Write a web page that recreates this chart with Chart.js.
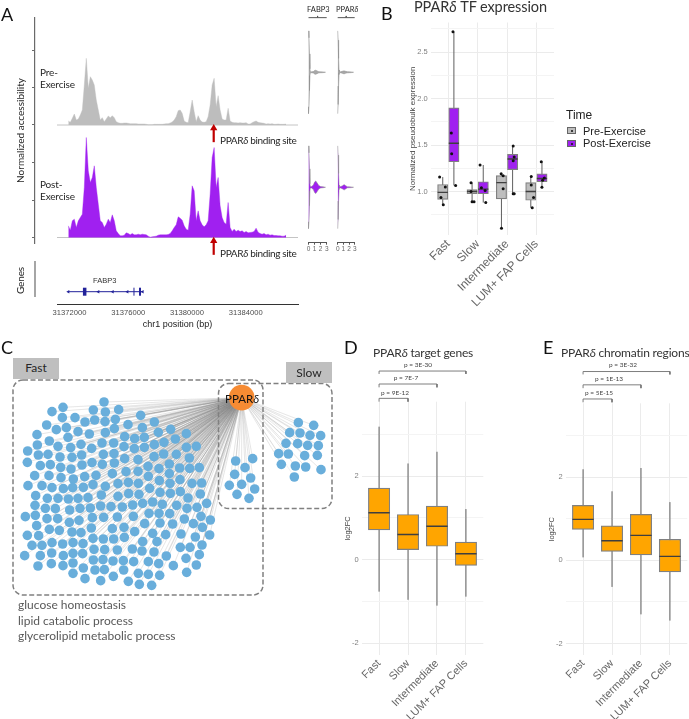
<!DOCTYPE html>
<html>
<head>
<meta charset="utf-8">
<script src="https://cdn.jsdelivr.net/npm/chart.js@4"></script>
<style>
  html, body { margin: 0; padding: 0; background: #fff; }
  #page { position: relative; width: 689px; height: 719px; overflow: hidden; font-family: Lato, sans-serif; }
  canvas { position: absolute; }
  svg { position: absolute; left: 0; top: 0; }
  .t { position: absolute; white-space: nowrap; line-height: 1; color: #262626; }
  .letter { font-size: 18px; color: #111; }
  .head { font-size: 12px; letter-spacing: -0.2px; color: #333; }
  .note { font-size: 10px; letter-spacing: -0.15px; }
  .site { letter-spacing: -0.35px; }
  .pval { font-size: 6.5px; color: #444; transform: translateX(-50%); }
  .go { font-size: 12px; color: #595959; }
  .sans { font-family: "Liberation Sans", sans-serif; }
  .tag { position: absolute; background: #bfbfbf; font-size: 12px; color: #262626; text-align: center; }
  .key { position: absolute; box-sizing: border-box; width: 9px; height: 7px; border: 1px solid #666; }
  .key i { position: absolute; left: 2.5px; top: 1.5px; width: 2.5px; height: 2.5px; border-radius: 50%; background: #111; }
</style>
</head>
<body>
<div id="page">
  <canvas id="tracks" width="302" height="250" style="left:0;top:10px"></canvas>
  <canvas id="genes" width="302" height="75" style="left:0;top:255px"></canvas>
  <canvas id="violinA" width="33" height="250" style="left:300px;top:10px"></canvas>
  <canvas id="violinB" width="33" height="250" style="left:330px;top:10px"></canvas>
  <canvas id="expr" width="153" height="305" style="left:405px;top:15px"></canvas>
  <canvas id="network" width="345" height="320" style="left:0;top:330px"></canvas>
  <canvas id="targets" width="147" height="359" style="left:340px;top:360px"></canvas>
  <canvas id="regions" width="145" height="359" style="left:544px;top:360px"></canvas>

  <svg width="689" height="719" fill="none" stroke="#808080" stroke-width="1.5" stroke-dasharray="5 2.5">
    <rect x="13" y="380" width="250" height="215" rx="10"></rect>
    <rect x="218.5" y="383.5" width="113.5" height="125" rx="10"></rect>
  </svg>

  <div class="t letter" style="left:1px;top:5px">A</div>
  <div class="t letter" style="left:381px;top:4px">B</div>
  <div class="t letter" style="left:1px;top:338px">C</div>
  <div class="t letter" style="left:344px;top:338px">D</div>
  <div class="t letter" style="left:543px;top:338px">E</div>

  <div class="t note" style="left:40px;top:67px">Pre-</div>
  <div class="t note" style="left:40px;top:79px">Exercise</div>
  <div class="t note" style="left:40px;top:179px">Post-</div>
  <div class="t note" style="left:40px;top:191px">Exercise</div>
  <div class="t note site" style="left:220px;top:135px">PPAR<i>δ</i> binding site</div>
  <div class="t note site" style="left:220px;top:248px">PPAR<i>δ</i> binding site</div>
  <div class="t note" style="left:15px;top:275px;transform:rotate(-90deg);transform-origin:left top;margin-top:19px">Genes</div>
  <div class="t sans" style="left:93px;top:277px;font-size:7.5px;color:#333">FABP3</div>
  <div class="t" style="left:307px;top:6px;font-size:7.5px">FABP3</div>
  <div class="t" style="left:336px;top:6px;font-size:7.5px">PPAR<i>δ</i></div>

  <div class="t head" style="left:414px;top:0;font-size:14.5px;letter-spacing:-0.1px">PPAR<i>δ</i> TF expression</div>
  <div class="t sans" style="left:566px;top:109px;font-size:12px;color:#222">Time</div>
  <div class="key" style="left:567px;top:127px;background:#bebebe"><i></i></div>
  <div class="key" style="left:567px;top:140px;background:#a020f0"><i></i></div>
  <div class="t sans" style="left:583px;top:126px;font-size:11px;color:#222">Pre-Exercise</div>
  <div class="t sans" style="left:583px;top:138px;font-size:11px;color:#222">Post-Exercise</div>

  <div class="tag" style="left:13px;top:358px;width:46px;height:21px;line-height:20px">Fast</div>
  <div class="tag" style="left:286px;top:362px;width:46px;height:21px;line-height:22px">Slow</div>
  <div class="t" style="left:225px;top:393px;font-size:11.5px;color:#111">PPAR<i>δ</i></div>
  <div class="t go" style="left:18px;top:599px">glucose homeostasis</div>
  <div class="t go" style="left:18px;top:615px">lipid catabolic process</div>
  <div class="t go" style="left:18px;top:630px">glycerolipid metabolic process</div>

  <div class="t head" style="left:373px;top:347px">PPAR<i>δ</i> target genes</div>
  <div class="t head" style="left:561px;top:347px">PPAR<i>δ</i> chromatin regions</div>
  <div class="t pval" style="left:395px;top:390px">p = 9E-12</div>
  <div class="t pval" style="left:406px;top:375px">p = 7E-7</div>
  <div class="t pval" style="left:418px;top:362px">p = 3E-30</div>
  <div class="t pval" style="left:599px;top:390px">p = 5E-15</div>
  <div class="t pval" style="left:609px;top:376px">p = 1E-13</div>
  <div class="t pval" style="left:623px;top:362px">p = 3E-32</div>
</div>

<script>
// panel A - accessibility tracks, one value every 136 bp
const trackStart = 31371920;
const trackStep = 136;
const preTrack = [12,8,20,33,15,18,30,45,120,200,110,145,135,120,75,45,15,22,10,18,27,22,28,22,10,7,5,5,6,6,5,4,4,4,4,3,3,3,3,2,1,1,1,2,2,2,2,2,3,4,4,6,9,15,25,43,45,35,12,8,7,40,75,40,10,28,15,9,8,10,25,60,120,140,55,88,45,18,15,15,50,12,8,7,7,6,7,6,6,7,3,3,7,10,12,8,7,6,5,3,4,3,4,2,2,3,2,2,2,3];
const postTrack = [35,22,50,55,30,50,60,70,150,300,200,165,180,215,150,100,50,45,30,40,55,45,68,50,20,12,5,5,7,14,12,8,12,8,8,10,8,10,9,8,4,1,2,3,4,7,8,8,8,8,9,12,20,30,38,62,58,52,35,25,22,70,155,140,50,80,50,38,32,38,50,130,240,270,150,180,95,60,45,40,105,30,18,25,18,22,18,20,15,18,14,15,16,18,28,16,12,10,12,8,10,7,8,6,6,5,5,4,4,7];
const trackTicks = [0, 112.5, 225, 337.5, 450, 562.5];
const preBase = 337.5;
const bindingSite = 31381818;
const positionTicks = [31372000, 31376000, 31380000, 31384000];

// FABP3 gene model
const geneSpan = [31371920, 31376980];
const geneArrows = [31371920, 31373960, 31374940, 31375940, 31376980];
const geneExons = [31373033, 31376390, 31376800];
const exonWeights = [3.5, 1, 2];

// violins: density by expression level
const violinExpr = [0, 0.08, 0.16, 0.24, 0.3, 0.5, 0.8, 1.0, 1.2, 1.4, 1.7, 2.0, 2.4, 2.8];
const fabp3Pre = [0.36, 0.3, 0.16, 0.03, 0.005, 0.004, 0.006, 0.015, 0.018, 0.012, 0.005, 0.004, 0.003, 0];
const fabp3Post = [0.36, 0.3, 0.16, 0.03, 0.006, 0.006, 0.02, 0.045, 0.055, 0.04, 0.015, 0.006, 0.004, 0];
const ppardPre = [0.36, 0.28, 0.12, 0.02, 0.005, 0.004, 0.008, 0.012, 0.012, 0.008, 0.005, 0.004, 0.003, 0];
const ppardPost = [0.36, 0.28, 0.12, 0.02, 0.005, 0.006, 0.012, 0.02, 0.022, 0.014, 0.005, 0.004, 0.003, 0];

// panel B
const cellTypes = ["Fast", "Slow", "Intermediate", "LUM+ FAP Cells"];
const preX = [0.81, 1.81, 2.81, 3.81];
const postX = [1.19, 2.19, 3.19, 4.19];
const preLow = [0.857, 0.89, 0.605, 0.825];
const preQ1 = [0.915, 0.975, 0.92, 0.905];
const preMed = [0.99, 1.0, 1.095, 1.0];
const preQ3 = [1.075, 1.02, 1.17, 1.095];
const preHigh = [1.155, 1.095, 1.19, 1.16];
const postLow = [1.065, 0.88, 0.975, 1.045];
const postQ1 = [1.32, 0.975, 1.235, 1.105];
const postMed = [1.52, 1.025, 1.35, 1.14];
const postQ3 = [1.9, 1.105, 1.4, 1.19];
const postHigh = [2.72, 1.285, 1.49, 1.32];
const samplesX = [0.704,0.897,0.749,0.829,1.159,1.103,1.114,1.25,1.774,1.774,1.809,1.877,2.082,2.128,2.253,2.276,2.8,2.868,2.868,2.811,3.21,3.244,3.21,3.21,3.244,3.825,3.825,3.904,3.859,4.166,4.269,4.212,4.189];
const samplesY = [1.155,1.047,0.935,0.857,2.72,1.63,1.405,1.065,1.095,1.0,0.89,0.89,1.285,1.04,1.01,0.88,1.19,1.17,1.03,0.605,1.49,1.37,1.33,0.975,0.975,1.16,1.07,0.935,0.825,1.32,1.145,1.12,1.045];

// panel C - network layout
const hubNode = [725, 203];
const nodeX = [312,189,156,280,316,356,187,225,255,284,315,346,422,463,140,169,199,234,268,316,343,384,427,475,512,559,111,204,148,112,174,212,243,275,306,341,374,404,433,372,403,433,463,492,526,559,589,83,115,144,180,216,245,310,342,374,414,462,491,529,568,82,121,151,182,213,246,276,307,343,444,477,508,539,569,598,104,147,183,220,254,288,337,378,414,445,478,508,510,540,576,605,84,126,156,190,218,250,279,316,354,385,415,449,480,511,541,564,601,107,142,174,205,234,264,304,354,386,417,105,136,166,209,240,271,302,333,367,398,428,458,487,530,561,591,620,76,106,141,173,208,237,277,311,352,400,447,477,509,553,603,631,110,148,178,216,243,274,337,372,404,434,480,518,580,607,82,116,458,497,543,586,629,96,126,156,188,219,249,279,310,341,373,428,471,541,570,606,74,121,155,190,219,248,282,314,352,397,426,462,499,558,598,114,154,189,219,280,309,339,370,401,445,476,520,589,219,250,285,313,371,415,445,479,560,255,302,340,385,418,455,707,758,735,704,752,688,725,764,711,747,895,941,869,900,930,962,858,893,923,955,836,865,914,952,844,886,917,963,883];
const nodeY = [216,232,245,240,246,239,263,263,276,270,275,268,256,276,285,299,293,305,312,308,296,284,293,307,298,311,314,322,333,345,349,353,343,355,339,339,320,326,322,350,356,352,344,337,327,352,349,363,375,373,381,382,375,373,371,386,389,380,372,373,384,397,407,404,412,417,405,398,403,399,409,416,402,414,415,413,437,437,443,447,440,436,431,425,424,439,452,431,460,449,460,459,467,467,473,476,473,472,464,469,461,457,460,475,487,490,485,504,492,497,505,505,507,505,503,495,499,491,493,526,535,536,540,535,534,528,530,531,525,520,516,523,526,535,532,520,560,556,566,566,577,571,563,562,561,559,550,550,551,567,559,570,587,598,601,606,608,594,596,592,605,581,579,582,581,592,616,617,610,614,612,621,615,646,646,638,642,638,641,625,627,627,622,635,635,652,652,645,677,677,669,677,670,671,658,659,660,657,663,666,678,685,674,708,701,707,699,690,689,693,692,695,695,701,707,705,730,714,720,719,720,730,733,736,727,746,752,739,754,763,766,393,386,413,433,444,466,463,477,493,505,278,286,308,309,316,317,340,341,346,347,371,372,377,376,403,408,411,419,441];

// panels D and E
const targetLow = [-0.765, -0.96, -1.1, -0.885];
const targetQ1 = [0.71, 0.24, 0.32, -0.135];
const targetMed = [1.12, 0.6, 0.8, 0.14];
const targetQ3 = [1.71, 1.08, 1.28, 0.42];
const targetHigh = [3.18, 2.3, 2.58, 1.21];
const regionLow = [0.07, -0.64, -1.3, -1.45];
const regionQ1 = [0.745, 0.215, 0.13, -0.28];
const regionMed = [0.985, 0.47, 0.6, 0.095];
const regionQ3 = [1.32, 0.83, 1.105, 0.505];
const regionHigh = [2.19, 1.66, 2.22, 1.4];
const targetBrackets = [[1, 2, 3.857, 3.777], [1, 3, 4.2, 4.12], [1, 4, 4.51, 4.44]];
const regionBrackets = [[1, 2, 3.88, 3.8], [1, 3, 4.22, 4.14], [1, 4, 4.54, 4.47]];

const greyText = "#7f7f7f";
const gridMajor = "#ebebeb";
const gridMinor = "#f4f4f4";
const sansFont = "'Liberation Sans', sans-serif";

function fixedTicks(values) {
  return (scale) => { scale.ticks = values.map((value) => ({ value })); };
}

function baseOptions(extra) {
  const options = Object.assign({
    responsive: false,
    animation: false,
    events: [],
    plugins: { legend: { display: false }, tooltip: { enabled: false } }
  }, extra);
  // chart areas are placed by hand, so no padding for big points
  options.layout = Object.assign({ autoPadding: false }, extra.layout);
  return options;
}

function lineSet(data, color, width, order = 1, extra = {}) {
  return Object.assign({
    type: "line", data, borderColor: color, borderWidth: width,
    pointRadius: 0, tension: 0, fill: false, clip: false, order
  }, extra);
}

// y scale with strong lines on labelled values and faint ones between
function boxYScale(min, max, ticks, labelled, width, format, titleText, titleSize) {
  return {
    min, max,
    afterBuildTicks: fixedTicks(ticks),
    afterFit: (scale) => { scale.width = width; },
    border: { display: false },
    grid: {
      drawTicks: false,
      color: (ctx) => (labelled.includes(ctx.tick.value) ? gridMajor : gridMinor)
    },
    ticks: {
      color: greyText, padding: 3, autoSkip: false,
      font: { size: 7.5, family: sansFont },
      callback: (value) => (labelled.includes(value) ? format(value) : "")
    },
    title: {
      display: true, text: titleText, color: "#444",
      font: { size: titleSize, family: sansFont }, padding: { top: 3, bottom: 0 }
    }
  };
}

function boxXScale(height, fontSize) {
  return {
    type: "linear", min: 0.4, max: 4.6, offset: false,
    afterBuildTicks: fixedTicks([1, 2, 3, 4]),
    afterFit: (scale) => { scale.height = height; },
    border: { display: false },
    grid: { drawTicks: false, offset: false, color: gridMajor },
    ticks: {
      color: "#666", padding: 2, autoSkip: false, minRotation: 45, maxRotation: 45,
      font: { size: fontSize, family: sansFont },
      callback: (value) => cellTypes[value - 1]
    }
  };
}

function boxSets(xs, low, q1, med, q3, high, fill, thickness, halfWidth) {
  const whiskers = xs.flatMap((x, i) => [{ x, y: low[i] }, { x, y: high[i] }, { x, y: null }]);
  const medians = xs.flatMap((x, i) => [{ x: x - halfWidth, y: med[i] }, { x: x + halfWidth, y: med[i] }, { x, y: null }]);
  return [
    lineSet(whiskers, "#5f5f5f", 1, 4),
    {
      type: "bar", order: 3, grouped: false, barThickness: thickness,
      data: xs.map((x, i) => ({ x, y: [q1[i], q3[i]] })),
      backgroundColor: fill, borderColor: "#808080", borderWidth: 1.2, borderSkipped: false
    },
    lineSet(medians, "#3f3f3f", 1.4, 2)
  ];
}

function bracketSets(brackets) {
  return brackets.map(([a, b, top, foot]) =>
    lineSet([{ x: a, y: foot }, { x: a, y: top }, { x: b, y: top }, { x: b, y: foot }], "#6f6f6f", 0.9));
}

// --- panel A, tracks
const trackPositions = preTrack.map((_, i) => trackStart + i * trackStep);
const xMinTrack = 31369651;
const xMaxTrack = 31387557;

new Chart(document.getElementById("tracks"), {
  type: "scatter",
  data: {
    datasets: [
      lineSet(trackPositions.map((x, i) => ({ x, y: preBase + preTrack[i] })), "#bdbdbd", 0.4, 3,
        { fill: { target: { value: preBase } }, backgroundColor: "#bdbdbd" }),
      lineSet(trackPositions.map((x, i) => ({ x, y: postTrack[i] })), "#a020f0", 0.4, 3,
        { fill: { target: { value: 0 } }, backgroundColor: "#a020f0" }),
      lineSet([{ x: 31371149, y: preBase }, { x: xMaxTrack, y: preBase }], "#b5b5b5", 0.8, 4),
      lineSet([{ x: 31371149, y: 0 }, { x: xMaxTrack, y: 0 }], "#b5b5b5", 0.8, 4),
      lineSet([{ x: bindingSite, y: 286 }, { x: bindingSite, y: 325 }], "#c00000", 2.2, 1),
      lineSet([{ x: bindingSite, y: -52 }, { x: bindingSite, y: -13 }], "#c00000", 2.2, 1),
      lineSet([{ x: bindingSite, y: 328 }, { x: bindingSite, y: -10 }], "#c00000", 0, 1, {
        showLine: false, pointStyle: "triangle", pointRadius: 4.2,
        pointBackgroundColor: "#c00000", pointBorderWidth: 0
      })
    ]
  },
  options: baseOptions({
    layout: { padding: { top: 8, bottom: 17, right: 4 } },
    scales: {
      x: { display: false, min: xMinTrack, max: xMaxTrack },
      y: {
        min: -16.5, max: 658.5,
        afterBuildTicks: fixedTicks(trackTicks),
        afterFit: (scale) => { scale.width = 35; },
        border: { display: true, color: "#6a6a6a", width: 1.2 },
        grid: { drawOnChartArea: false, drawTicks: true, tickLength: 3, color: "#6a6a6a" },
        ticks: { display: false },
        title: {
          display: true, text: "Normalized accessibility", color: "#262626",
          font: { size: 10, family: "Lato" }, padding: { top: 15, bottom: 0 }
        }
      }
    }
  })
});

// --- panel A, gene model
new Chart(document.getElementById("genes"), {
  type: "scatter",
  data: {
    datasets: [
      lineSet(geneSpan.map((x) => ({ x, y: 12.3 })), "#22229a", 1, 2),
      lineSet(geneArrows.map((x) => ({ x, y: 12.3 })), "#22229a", 0, 1, {
        showLine: false, pointStyle: "triangle", rotation: -90, pointRadius: 2,
        pointBackgroundColor: "#22229a", pointBorderWidth: 0
      }),
      ...geneExons.map((x, i) => lineSet([{ x, y: 8.3 }, { x, y: 16.3 }], "#22229a", exonWeights[i], 1)),
      lineSet([{ x: 31369651, y: 7 }, { x: 31369651, y: 43 }], "#6a6a6a", 1.2)
    ]
  },
  options: baseOptions({
    layout: { padding: { left: 57, right: 4, top: 3 } },
    scales: {
      y: { display: false, min: 0, max: 46 },
      x: {
        min: 31371149, max: xMaxTrack,
        afterBuildTicks: fixedTicks(positionTicks),
        afterFit: (scale) => { scale.height = 26; },
        border: { display: true, color: "#333", width: 1 },
        grid: { drawOnChartArea: false, drawTicks: false },
        ticks: {
          color: "#4d4d4d", padding: 4, autoSkip: false, maxRotation: 0,
          font: { size: 7.6, family: sansFont }, callback: (value) => String(value)
        },
        title: {
          display: true, text: "chr1 position (bp)", color: "#222",
          font: { size: 9, family: sansFont }, padding: { top: 2, bottom: 0 }
        }
      }
    }
  })
});

// --- panel A, violins
function violinSet(density, row, fill) {
  const upper = violinExpr.map((x, i) => ({ x, y: row - density[i] }));
  const lower = violinExpr.map((x, i) => ({ x, y: row + density[i] })).reverse();
  return lineSet(upper.concat(lower), "#8a8a8a", 0.5, 1, { fill: "shape", backgroundColor: fill });
}

function violinChart(id, pre, post, padLeft, padRight) {
  const top = 0.525;
  new Chart(document.getElementById(id), {
    type: "scatter",
    data: {
      datasets: [
        violinSet(pre, 1, "#a8a8a8"),
        violinSet(post, 2, "#a020f0"),
        lineSet([{ x: 0, y: top }, { x: 1.5, y: top }, { x: 1.5, y: top - 0.015 }, { x: 1.5, y: top }, { x: 3, y: top }], "#555", 1)
      ]
    },
    options: baseOptions({
      layout: { padding: { left: padLeft, right: padRight, top: 8 } },
      scales: {
        y: { display: false, min: 0.528, max: 2.482, reverse: true },
        x: {
          min: 0, max: 3,
          afterBuildTicks: fixedTicks([0, 1, 2, 3]),
          afterFit: (scale) => { scale.height = 17.3; },
          border: { display: true, color: "#555", width: 1 },
          grid: { drawOnChartArea: false, drawTicks: true, tickLength: 2, color: "#555" },
          ticks: {
            color: "#666", padding: 1, autoSkip: false, maxRotation: 0,
            font: { size: 6.5, family: sansFont }
          }
        }
      }
    })
  });
}

violinChart("violinA", fabp3Pre, fabp3Post, 8.5, 6.3);
violinChart("violinB", ppardPre, ppardPost, 7.7, 8.3);

// --- panel B
new Chart(document.getElementById("expr"), {
  type: "bar",
  data: {
    datasets: [
      ...boxSets(preX, preLow, preQ1, preMed, preQ3, preHigh, "#bebebe", 10.3, 0.175),
      ...boxSets(postX, postLow, postQ1, postMed, postQ3, postHigh, "#a020f0", 10.3, 0.175),
      {
        type: "scatter", order: 0, showLine: false,
        data: samplesX.map((x, i) => ({ x, y: samplesY[i] })),
        pointRadius: 1.5, pointBackgroundColor: "#111", pointBorderWidth: 0
      }
    ]
  },
  options: baseOptions({
    layout: { padding: { top: 6.7, right: 4 } },
    scales: {
      x: boxXScale(85, 12),
      y: boxYScale(0.531, 2.82, [0.75, 1, 1.25, 1.5, 1.75, 2, 2.25, 2.5, 2.75], [1, 1.5, 2, 2.5], 25.7,
        (value) => value.toFixed(1), "Normalized pseudobulk expression", 8)
    }
  })
});

// --- panel C
const edges = nodeX.flatMap((x, i) => [{ x: hubNode[0], y: hubNode[1] }, { x, y: nodeY[i] }]);

new Chart(document.getElementById("network"), {
  type: "scatter",
  data: {
    datasets: [
      lineSet(edges, "rgba(140,140,140,0.22)", 0.5, 3),
      {
        order: 2, data: nodeX.map((x, i) => ({ x, y: nodeY[i] })),
        pointRadius: 4.8, pointBackgroundColor: "#69aedb", pointBorderWidth: 0
      },
      {
        order: 1, data: [{ x: hubNode[0], y: hubNode[1] }],
        pointRadius: 12.8, pointBackgroundColor: "#f68b33", pointBorderWidth: 0
      }
    ]
  },
  options: baseOptions({
    scales: {
      x: { display: false, min: 0, max: 1035 },
      y: { display: false, min: 0, max: 960, reverse: true }
    }
  })
});

// --- panels D and E
function logFcChart(id, low, q1, med, q3, high, brackets, yMin, yMax, axisWidth, padTop, padRight) {
  new Chart(document.getElementById(id), {
    type: "bar",
    data: {
      datasets: [
        ...boxSets([1, 2, 3, 4], low, q1, med, q3, high, "#ffa500", 21.4, 0.368),
        ...bracketSets(brackets)
      ]
    },
    options: baseOptions({
      layout: { padding: { top: padTop, right: padRight } },
      scales: {
        x: boxXScale(64, 11),
        y: boxYScale(yMin, yMax, [-2, -1, 0, 1, 2, 3], [-2, 0, 2], axisWidth, String, "log2FC", 7.5)
      }
    })
  });
}

logFcChart("targets", targetLow, targetQ1, targetMed, targetQ3, targetHigh, targetBrackets, -2.28, 3.777, 21.7, 41.7, 3.7);
logFcChart("regions", regionLow, regionQ1, regionMed, regionQ3, regionHigh, regionBrackets, -2.277, 3.776, 21.7, 43.3, 1.7);
</script>
</body>
</html>
